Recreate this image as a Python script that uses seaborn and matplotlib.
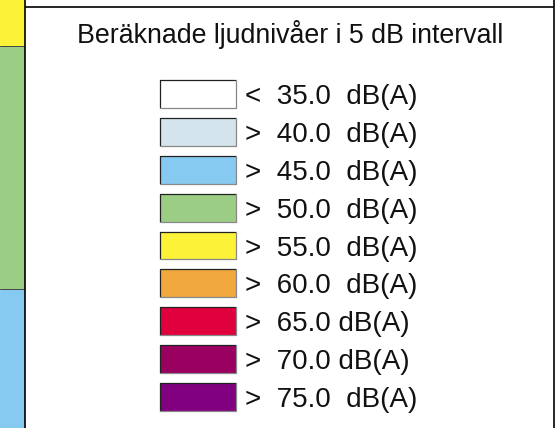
import numpy as np
import matplotlib
matplotlib.use("Agg")
import matplotlib.pyplot as plt
from matplotlib.colors import ListedColormap
import seaborn as sns

# legend content
title = "Beräknade ljudnivåer i 5 dB intervall"
levels = [35, 40, 45, 50, 55, 60, 65, 70, 75]
level_labels = ["<  35.0  dB(A)", ">  40.0  dB(A)", ">  45.0  dB(A)",
                ">  50.0  dB(A)", ">  55.0  dB(A)", ">  60.0  dB(A)",
                ">  65.0 dB(A)", ">  70.0 dB(A)", ">  75.0  dB(A)"]
level_colors = ["#FFFFFF", "#D4E4EC", "#86CAF1", "#9BCD85", "#FCF338",
                "#F0A83E", "#E1003E", "#990060", "#800080"]

# slice of the noise map visible on the left edge (pixel rows)
strip_colors = ["#FCF338", "#9BCD85", "#86CAF1"]
strip_edges = [0, 46, 289, 428]

sns.set_style("white")
plt.rcParams["font.family"] = ["Liberation Sans", "DejaVu Sans"]

W, H = 557, 428
fig = plt.figure(figsize=(W / 100, H / 100), dpi=100)


def box(x0, y0, x1, y1):
    return [x0 / W, 1 - y1 / H, (x1 - x0) / W, (y1 - y0) / H]


# map strip
ax_map = fig.add_axes(box(0, 0, 25, 428))
ax_map.set_ylim(strip_edges[-1], strip_edges[0])
for c, a, b in zip(strip_colors, strip_edges[:-1], strip_edges[1:]):
    ax_map.axhspan(a, b, color=c, lw=0)
for b in strip_edges[1:-1]:
    ax_map.axhline(b, color="#444444", lw=0.7)
ax_map.set_axis_off()

# frame of the legend box
ax_frame = fig.add_axes(box(25, 0, 554, 428))
ax_frame.set_facecolor("none")
ax_frame.set_xlim(0, 1)
ax_frame.set_ylim(H, 0)
ax_frame.set_xticks([])
ax_frame.set_yticks([])
for s in ["top", "bottom"]:
    ax_frame.spines[s].set_visible(False)
for s in ["left", "right"]:
    ax_frame.spines[s].set_linewidth(1.2)
    ax_frame.spines[s].set_color("black")
ax_frame.axhline(7, color="black", lw=1.2)

fig.text(290.5 / W, 1 - 43 / H, title, ha="center", va="baseline",
         fontsize=19.3, color="#111111")

# swatches
ax = fig.add_axes(box(155, 75, 241, 416))
cmap = ListedColormap(level_colors)
sns.heatmap(np.array(levels).reshape(-1, 1), cmap=cmap, vmin=32.5, vmax=77.5,
            linewidths=7.2, linecolor="white", cbar=False,
            xticklabels=False, yticklabels=level_labels, ax=ax)
ix = 5 / 86
iy = 5 / (341 / len(levels))
for i in range(len(levels)):
    x0, x1 = ix, 1 - ix
    y0, y1 = i + iy, i + 1 - iy
    ax.plot([x0, x0, x1], [y1, y0, y0], color="#222222", lw=0.9,
            solid_capstyle="butt")
    ax.plot([x0, x1, x1], [y1, y1, y0], color="#888888", lw=0.9,
            solid_capstyle="butt")
ax.yaxis.tick_right()
ax.tick_params(axis="y", length=0, pad=3, labelsize=20, labelrotation=0,
               labelcolor="#111111")
for t in ax.get_yticklabels():
    t.set_ha("left")

fig.savefig("out.png", dpi=100)
